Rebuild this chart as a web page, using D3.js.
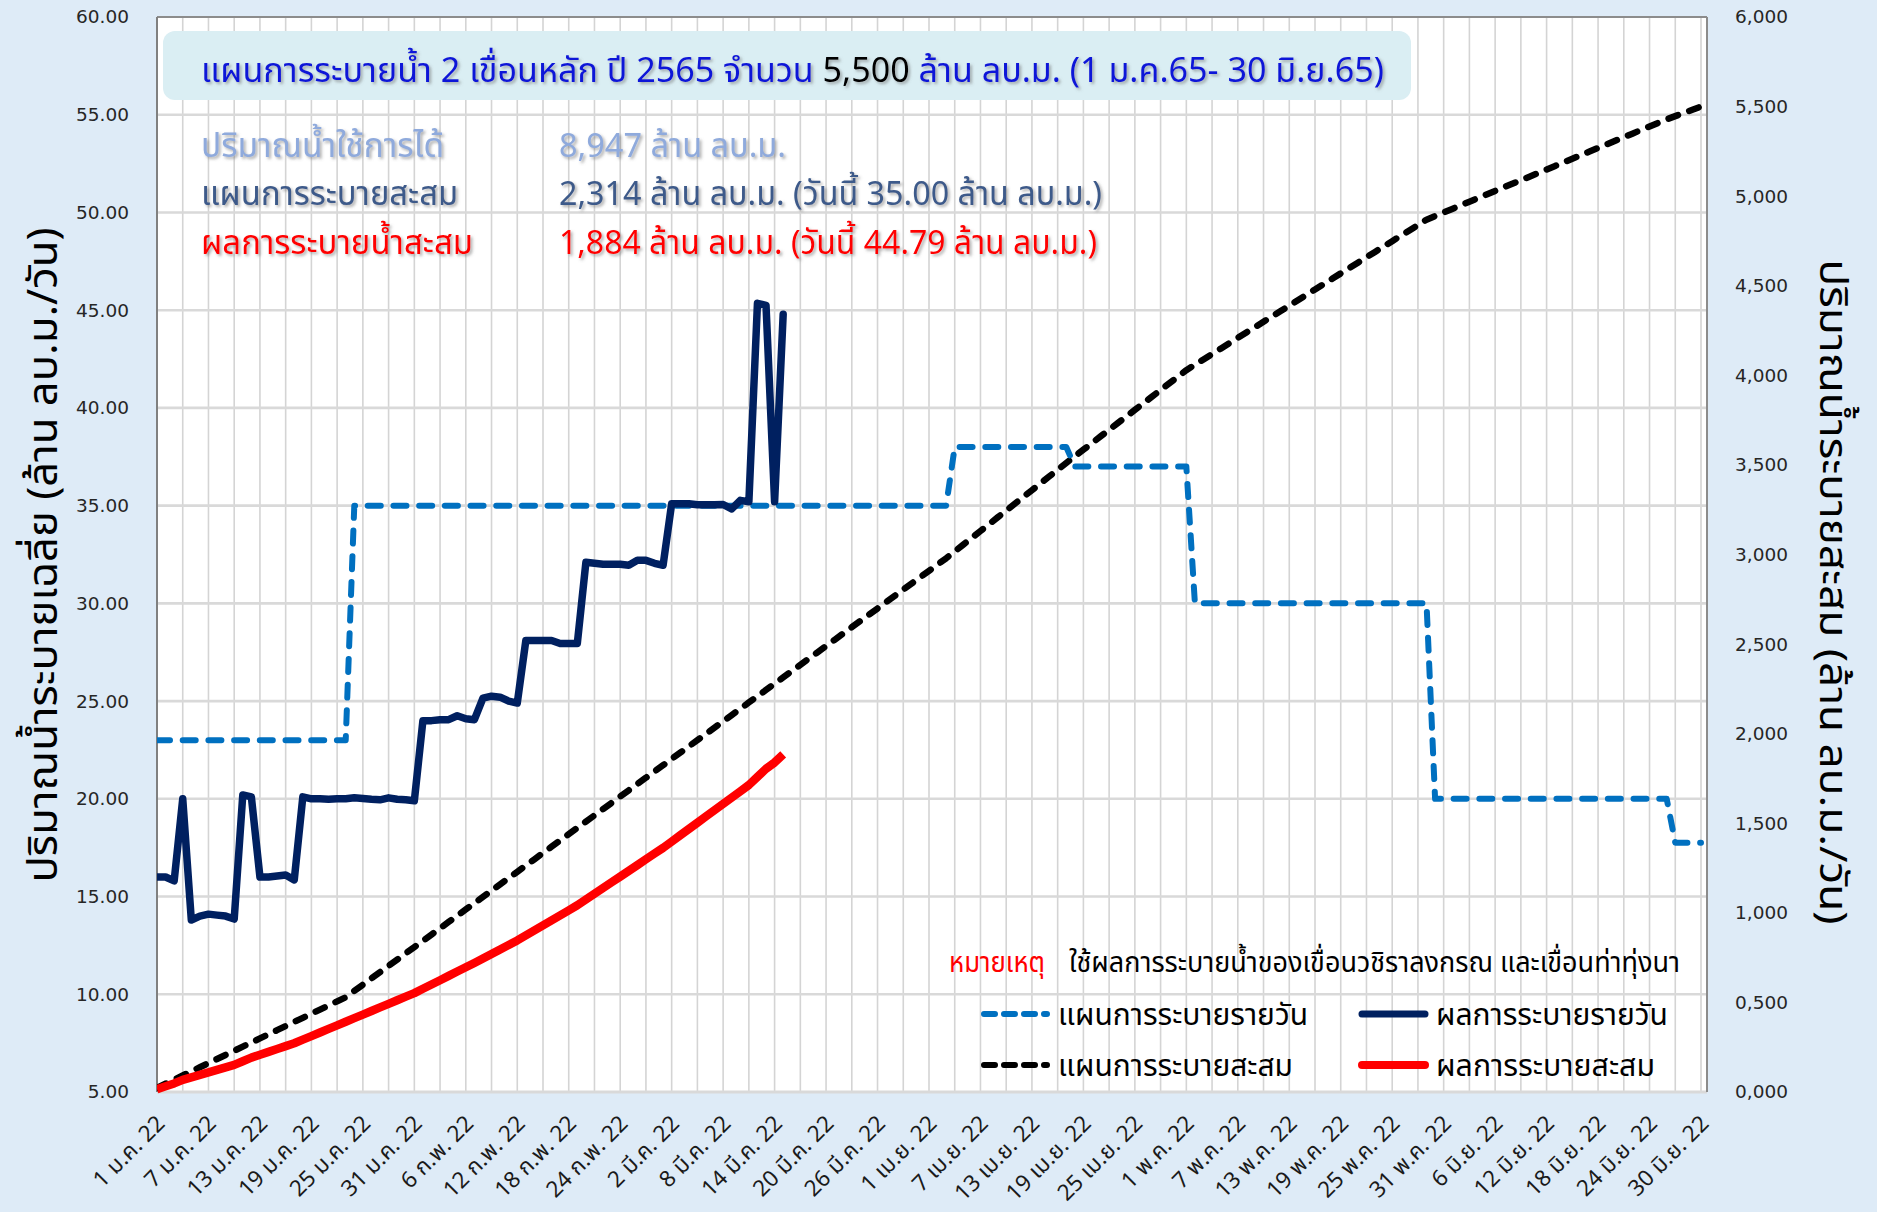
<!DOCTYPE html>
<html>
<head>
<meta charset="utf-8">
<script src="https://cdn.jsdelivr.net/npm/d3@7"></script>
<style>
  html, body { margin: 0; padding: 0; background: #deebf7; }
  svg { display: block; }
</style>
</head>
<body>
<svg id="chart" width="1877" height="1212"></svg>
<script>
// ---- data -------------------------------------------------------------
const firstDay = "2022-01-01";
const lastDay = "2022-06-30";

// Planned daily release (million m3/day); each level holds from its start date to the next one
const planStartDates = ["2022-01-01", "2022-01-24", "2022-04-04", "2022-04-18", "2022-05-02", "2022-05-30", "2022-06-27"];
const planDailyLevels = [23, 35, 38, 37, 30, 20, 17.75];

// Actual daily release (million m3/day), 1 Jan - 15 Mar 2022
const actualDaily = [
  16.0, 16.0, 15.8, 20.0, 13.8, 14.0, 14.1, 14.05, 14.0, 13.85,
  20.2, 20.1, 16.0, 16.0, 16.05, 16.1, 15.85, 20.1, 20.0, 20.0,
  19.98, 20.0, 20.0, 20.05, 20.02, 19.98, 19.95, 20.05, 19.98, 19.95,
  19.9, 24.0, 24.0, 24.05, 24.05, 24.25, 24.1, 24.05, 25.15, 25.25,
  25.2, 25.0, 24.9, 28.1, 28.1, 28.1, 28.1, 27.95, 27.95, 27.95,
  32.1, 32.05, 32.0, 32.0, 32.0, 31.95, 32.2, 32.2, 32.05, 31.95,
  35.1, 35.1, 35.1, 35.05, 35.05, 35.05, 35.06, 34.83, 35.27, 35.2,
  45.35, 45.25, 35.2, 44.79
];

const xTickLabels = [
  "1 ม.ค. 22", "7 ม.ค. 22", "13 ม.ค. 22", "19 ม.ค. 22", "25 ม.ค. 22", "31 ม.ค. 22",
  "6 ก.พ. 22", "12 ก.พ. 22", "18 ก.พ. 22", "24 ก.พ. 22",
  "2 มี.ค. 22", "8 มี.ค. 22", "14 มี.ค. 22", "20 มี.ค. 22", "26 มี.ค. 22",
  "1 เม.ย. 22", "7 เม.ย. 22", "13 เม.ย. 22", "19 เม.ย. 22", "25 เม.ย. 22",
  "1 พ.ค. 22", "7 พ.ค. 22", "13 พ.ค. 22", "19 พ.ค. 22", "25 พ.ค. 22", "31 พ.ค. 22",
  "6 มิ.ย. 22", "12 มิ.ย. 22", "18 มิ.ย. 22", "24 มิ.ย. 22", "30 มิ.ย. 22"
];
const leftTicks = [5, 10, 15, 20, 25, 30, 35, 40, 45, 50, 55, 60];
const rightTicks = [0, 500, 1000, 1500, 2000, 2500, 3000, 3500, 4000, 4500, 5000, 5500, 6000];
const rightTickLabels = ["0,000", "0,500", "1,000", "1,500", "2,000", "2,500", "3,000",
                         "3,500", "4,000", "4,500", "5,000", "5,500", "6,000"];

const titleParts = [
  { text: "แผนการระบายน้ำ 2 เขื่อนหลัก ปี 2565 จำนวน ", color: "#0a14d8" },
  { text: "5,500", color: "#000000" },
  { text: " ล้าน ลบ.ม. (1 ม.ค.65- 30 มิ.ย.65)", color: "#0a14d8" }
];
const infoRows = [
  { label: "ปริมาณน้ำใช้การได้", value: "8,947 ล้าน ลบ.ม.", color: "#8faadc" },
  { label: "แผนการระบายสะสม", value: "2,314 ล้าน ลบ.ม. (วันนี้ 35.00 ล้าน ลบ.ม.)", color: "#3e5a8a" },
  { label: "ผลการระบายน้ำสะสม", value: "1,884 ล้าน ลบ.ม. (วันนี้ 44.79 ล้าน ลบ.ม.)", color: "#ff0000" }
];
const noteLabel = "หมายเหตุ";
const noteText = "ใช้ผลการระบายน้ำของเขื่อนวชิราลงกรณ และเขื่อนท่าทุ่งนา";
const seriesNames = ["แผนการระบายรายวัน", "ผลการระบายรายวัน", "แผนการระบายสะสม", "ผลการระบายสะสม"];
const leftTitle = "ปริมาณน้ำระบายเฉลี่ย (ล้าน ลบ.ม./วัน)";
const rightTitle = "ปริมาณน้ำระบายสะสม (ล้าน ลบ.ม./วัน)";

// ---- derived series -----------------------------------------------------
const parse = d3.utcParse("%Y-%m-%d");
const d0 = parse(firstDay), d1 = parse(lastDay);
const allDays = d3.utcDay.range(d0, d3.utcDay.offset(d1, 1));
const planStarts = planStartDates.map(parse);
const planDaily = allDays.map(d => planDailyLevels[d3.bisectRight(planStarts, d) - 1]);
const planCum = Array.from(d3.cumsum(planDaily));
const actualDays = allDays.slice(0, actualDaily.length);
const actualCum = Array.from(d3.cumsum(actualDaily));

// ---- layout -------------------------------------------------------------
const W = 1877, H = 1212;
const plot = { left: 157, right: 1707, top: 17, bottom: 1092 };
const THAI = "'Noto Sans Thai', 'Noto Sans', 'DejaVu Sans', sans-serif";
const NUM = "'DejaVu Sans', Verdana, sans-serif";

const x = d3.scaleUtc().domain([d0, d1]).range([plot.left, 1701]);
const yL = d3.scaleLinear().domain([5, 60]).range([plot.bottom, plot.top]);
const yR = d3.scaleLinear().domain([0, 6000]).range([plot.bottom, plot.top]);

const svg = d3.select("#chart");
const defs = svg.append("defs");
const shadow = defs.append("filter").attr("id", "txtShadow")
  .attr("x", "-5%").attr("y", "-30%").attr("width", "110%").attr("height", "160%");
shadow.append("feDropShadow").attr("dx", 2).attr("dy", 2).attr("stdDeviation", 1.6)
  .attr("flood-color", "#6b6b6b").attr("flood-opacity", 0.55);
defs.append("clipPath").attr("id", "plotClip").append("rect")
  .attr("x", plot.left).attr("y", plot.top - 4)
  .attr("width", plot.right - plot.left).attr("height", plot.bottom - plot.top + 8);

svg.append("rect").attr("width", W).attr("height", H).attr("fill", "#deebf7");
svg.append("rect").attr("x", plot.left).attr("y", plot.top)
  .attr("width", plot.right - plot.left).attr("height", plot.bottom - plot.top)
  .attr("fill", "#ffffff");

// vertical gridlines every 3 days
const gridDays = allDays.filter((d, i) => i % 3 === 0);
svg.append("g").selectAll("line").data(gridDays).join("line")
  .attr("x1", d => x(d)).attr("x2", d => x(d))
  .attr("y1", plot.top).attr("y2", plot.bottom)
  .attr("stroke", "#d4d4d4").attr("stroke-width", 1.6);

// horizontal gridlines on the left-axis ticks
svg.append("g").selectAll("line").data(leftTicks.slice(1, -1)).join("line")
  .attr("x1", plot.left).attr("x2", plot.right)
  .attr("y1", d => yL(d)).attr("y2", d => yL(d))
  .attr("stroke", "#d9d9d9").attr("stroke-width", 2.6);

// plot frame
svg.append("line").attr("x1", plot.left).attr("x2", plot.right)
  .attr("y1", plot.bottom).attr("y2", plot.bottom)
  .attr("stroke", "#d9d9d9").attr("stroke-width", 3);
svg.append("line").attr("x1", plot.left).attr("x2", plot.right)
  .attr("y1", plot.top).attr("y2", plot.top)
  .attr("stroke", "#8c8c8c").attr("stroke-width", 2);
svg.append("line").attr("x1", plot.right).attr("x2", plot.right)
  .attr("y1", plot.top).attr("y2", plot.bottom)
  .attr("stroke", "#8c8c8c").attr("stroke-width", 2);
svg.append("line").attr("x1", plot.left).attr("x2", plot.left)
  .attr("y1", plot.top).attr("y2", plot.bottom)
  .attr("stroke", "#808080").attr("stroke-width", 2);

// ---- axes ---------------------------------------------------------------
const leftAxis = svg.append("g").attr("transform", `translate(${plot.left},0)`)
  .call(d3.axisLeft(yL).tickValues(leftTicks).tickFormat(d3.format(".2f")).tickSize(0).tickPadding(28));
leftAxis.select(".domain").remove();
leftAxis.selectAll("text").attr("font-family", NUM).attr("font-size", 18.5).attr("fill", "#262626");

const rightAxis = svg.append("g").attr("transform", `translate(${plot.right},0)`)
  .call(d3.axisRight(yR).tickValues(rightTicks).tickFormat((d, i) => rightTickLabels[i]).tickSize(0).tickPadding(28));
rightAxis.select(".domain").remove();
rightAxis.selectAll("text").attr("font-family", NUM).attr("font-size", 18.5).attr("fill", "#262626");

const tickDates = xTickLabels.map((t, i) => d3.utcDay.offset(d0, i * 6));
svg.append("g").selectAll("text").data(tickDates).join("text")
  .attr("transform", d => `translate(${x(d) + 9},${plot.bottom + 33}) rotate(-45)`)
  .attr("text-anchor", "end")
  .attr("font-family", THAI).attr("font-size", 22.5).attr("fill", "#1a1a1a")
  .text((d, i) => xTickLabels[i]);

// axis titles
svg.append("text")
  .attr("transform", `translate(57,555) rotate(-90)`)
  .attr("text-anchor", "middle").attr("font-family", THAI).attr("font-size", 41)
  .attr("textLength", 655).attr("lengthAdjust", "spacingAndGlyphs")
  .attr("fill", "#000").text(leftTitle);
svg.append("text")
  .attr("transform", `translate(1820,592) rotate(90)`)
  .attr("text-anchor", "middle").attr("font-family", THAI).attr("font-size", 39)
  .attr("textLength", 665).attr("lengthAdjust", "spacingAndGlyphs")
  .attr("fill", "#000").text(rightTitle);

// ---- series -------------------------------------------------------------
const gSeries = svg.append("g").attr("clip-path", "url(#plotClip)");
const lineL = d3.line().x(d => x(d[0])).y(d => yL(d[1]));
const lineR = d3.line().x(d => x(d[0])).y(d => yR(d[1]));

gSeries.append("path").datum(d3.zip(allDays, planCum)).attr("d", lineR)
  .attr("fill", "none").attr("stroke", "#000").attr("stroke-width", 6.5)
  .attr("stroke-dasharray", "10 12").attr("stroke-linecap", "round").attr("stroke-linejoin", "round");
gSeries.append("path").datum(d3.zip(actualDays, actualCum)).attr("d", lineR)
  .attr("fill", "none").attr("stroke", "#ff0000").attr("stroke-width", 8.5)
  .attr("stroke-linejoin", "round");
gSeries.append("path").datum(d3.zip(allDays, planDaily)).attr("d", lineL)
  .attr("fill", "none").attr("stroke", "#0070c0").attr("stroke-width", 6)
  .attr("stroke-dasharray", "13 12.7").attr("stroke-linecap", "round").attr("stroke-linejoin", "round");
gSeries.append("path").datum(d3.zip(actualDays, actualDaily)).attr("d", lineL)
  .attr("fill", "none").attr("stroke", "#002060").attr("stroke-width", 7.5)
  .attr("stroke-linejoin", "round").attr("stroke-linecap", "round");

// ---- title box and summary text -----------------------------------------
svg.append("rect").attr("x", 163).attr("y", 31).attr("width", 1248).attr("height", 69)
  .attr("rx", 12).attr("fill", "#daeef3");
const title = svg.append("text").attr("x", 201).attr("y", 82)
  .attr("font-family", THAI).attr("font-size", 34).attr("filter", "url(#txtShadow)")
  .attr("textLength", 1183).attr("lengthAdjust", "spacingAndGlyphs");
title.selectAll("tspan").data(titleParts).join("tspan")
  .attr("fill", d => d.color).text(d => d.text);

const labelWidths = [243, 257, 272];
const valueWidths = [227, 543, 538];
const rowBase = [157, 205, 254];
infoRows.forEach((r, i) => {
  svg.append("text").attr("x", 201).attr("y", rowBase[i])
    .attr("font-family", THAI).attr("font-size", 33).attr("fill", r.color)
    .attr("filter", "url(#txtShadow)")
    .attr("textLength", labelWidths[i]).attr("lengthAdjust", "spacingAndGlyphs").text(r.label);
  svg.append("text").attr("x", 559).attr("y", rowBase[i])
    .attr("font-family", THAI).attr("font-size", 33).attr("fill", r.color)
    .attr("filter", "url(#txtShadow)")
    .attr("textLength", valueWidths[i]).attr("lengthAdjust", "spacingAndGlyphs").text(r.value);
});

// ---- legend -------------------------------------------------------------
svg.append("text").attr("x", 949).attr("y", 972)
  .attr("font-family", THAI).attr("font-size", 28).attr("fill", "#ff0000")
  .attr("textLength", 96).attr("lengthAdjust", "spacingAndGlyphs").text(noteLabel);
svg.append("text").attr("x", 1069).attr("y", 972)
  .attr("font-family", THAI).attr("font-size", 28).attr("fill", "#000")
  .attr("textLength", 611).attr("lengthAdjust", "spacingAndGlyphs").text(noteText);

const legendItems = [
  { name: seriesNames[0], color: "#0070c0", dash: "11 9", w: 6, x: 984, y: 1014, tw: 250 },
  { name: seriesNames[1], color: "#002060", dash: null, w: 7, x: 1362, y: 1014, tw: 232 },
  { name: seriesNames[2], color: "#000000", dash: "11 9", w: 6, x: 984, y: 1065, tw: 235 },
  { name: seriesNames[3], color: "#ff0000", dash: null, w: 8, x: 1362, y: 1065, tw: 219 }
];
const lg = svg.append("g").selectAll("g").data(legendItems).join("g");
lg.append("line")
  .attr("x1", d => d.x).attr("x2", d => d.x + 63)
  .attr("y1", d => d.y).attr("y2", d => d.y)
  .attr("stroke", d => d.color).attr("stroke-width", d => d.w)
  .attr("stroke-linecap", "round")
  .attr("stroke-dasharray", d => d.dash);
lg.append("text")
  .attr("x", d => d.x + 74).attr("y", d => d.y + 11)
  .attr("font-family", THAI).attr("font-size", 31).attr("fill", "#000")
  .attr("textLength", d => d.tw).attr("lengthAdjust", "spacingAndGlyphs")
  .text(d => d.name);
</script>
</body>
</html>
